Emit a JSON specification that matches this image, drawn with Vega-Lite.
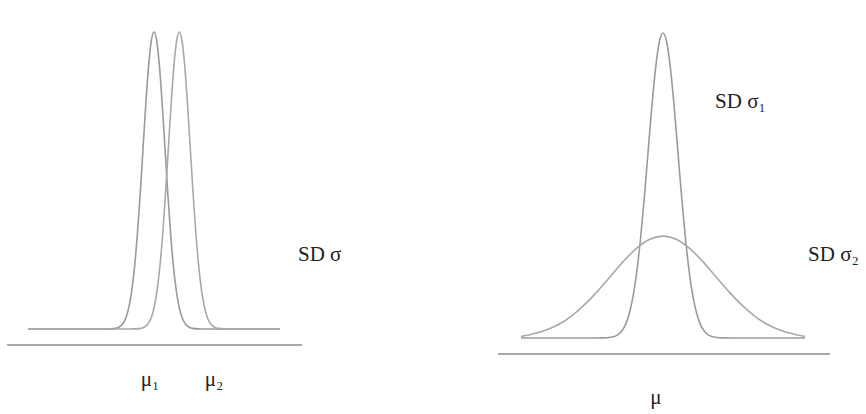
{
  "$schema": "https://vega.github.io/schema/vega-lite/v6.json",
  "padding": 0,
  "spacing": 0,
  "background": "white",
  "config": {"view": {"stroke": null}},
  "datasets": {
    "left": [
      {"curve": "c1", "x": -11.45, "y": 0},
      {"curve": "c1", "x": -4.5, "y": 0},
      {"curve": "c1", "x": -4, "y": 0.0003},
      {"curve": "c1", "x": -3.5, "y": 0.0022},
      {"curve": "c1", "x": -3.25, "y": 0.0051},
      {"curve": "c1", "x": -3, "y": 0.0111},
      {"curve": "c1", "x": -2.75, "y": 0.0228},
      {"curve": "c1", "x": -2.5, "y": 0.0439},
      {"curve": "c1", "x": -2.25, "y": 0.0796},
      {"curve": "c1", "x": -2, "y": 0.1353},
      {"curve": "c1", "x": -1.75, "y": 0.2163},
      {"curve": "c1", "x": -1.5, "y": 0.3247},
      {"curve": "c1", "x": -1.25, "y": 0.4578},
      {"curve": "c1", "x": -1, "y": 0.6065},
      {"curve": "c1", "x": -0.75, "y": 0.7548},
      {"curve": "c1", "x": -0.5, "y": 0.8825},
      {"curve": "c1", "x": -0.25, "y": 0.9692},
      {"curve": "c1", "x": 0, "y": 1},
      {"curve": "c1", "x": 0.25, "y": 0.9692},
      {"curve": "c1", "x": 0.5, "y": 0.8825},
      {"curve": "c1", "x": 0.75, "y": 0.7548},
      {"curve": "c1", "x": 1, "y": 0.6065},
      {"curve": "c1", "x": 1.25, "y": 0.4578},
      {"curve": "c1", "x": 1.5, "y": 0.3247},
      {"curve": "c1", "x": 1.75, "y": 0.2163},
      {"curve": "c1", "x": 2, "y": 0.1353},
      {"curve": "c1", "x": 2.25, "y": 0.0796},
      {"curve": "c1", "x": 2.5, "y": 0.0439},
      {"curve": "c1", "x": 2.75, "y": 0.0228},
      {"curve": "c1", "x": 3, "y": 0.0111},
      {"curve": "c1", "x": 3.25, "y": 0.0051},
      {"curve": "c1", "x": 3.5, "y": 0.0022},
      {"curve": "c1", "x": 4, "y": 0.0003},
      {"curve": "c1", "x": 4.5, "y": 0},
      {"curve": "c1", "x": 11.45, "y": 0},
      {"curve": "c2", "x": -11.45, "y": 0},
      {"curve": "c2", "x": -2.2, "y": 0},
      {"curve": "c2", "x": -1.7, "y": 0.0003},
      {"curve": "c2", "x": -1.2, "y": 0.0022},
      {"curve": "c2", "x": -0.95, "y": 0.0051},
      {"curve": "c2", "x": -0.7, "y": 0.0111},
      {"curve": "c2", "x": -0.45, "y": 0.0228},
      {"curve": "c2", "x": -0.2, "y": 0.0439},
      {"curve": "c2", "x": 0.05, "y": 0.0796},
      {"curve": "c2", "x": 0.3, "y": 0.1353},
      {"curve": "c2", "x": 0.55, "y": 0.2163},
      {"curve": "c2", "x": 0.8, "y": 0.3247},
      {"curve": "c2", "x": 1.05, "y": 0.4578},
      {"curve": "c2", "x": 1.3, "y": 0.6065},
      {"curve": "c2", "x": 1.55, "y": 0.7548},
      {"curve": "c2", "x": 1.8, "y": 0.8825},
      {"curve": "c2", "x": 2.05, "y": 0.9692},
      {"curve": "c2", "x": 2.3, "y": 1},
      {"curve": "c2", "x": 2.55, "y": 0.9692},
      {"curve": "c2", "x": 2.8, "y": 0.8825},
      {"curve": "c2", "x": 3.05, "y": 0.7548},
      {"curve": "c2", "x": 3.3, "y": 0.6065},
      {"curve": "c2", "x": 3.55, "y": 0.4578},
      {"curve": "c2", "x": 3.8, "y": 0.3247},
      {"curve": "c2", "x": 4.05, "y": 0.2163},
      {"curve": "c2", "x": 4.3, "y": 0.1353},
      {"curve": "c2", "x": 4.55, "y": 0.0796},
      {"curve": "c2", "x": 4.8, "y": 0.0439},
      {"curve": "c2", "x": 5.05, "y": 0.0228},
      {"curve": "c2", "x": 5.3, "y": 0.0111},
      {"curve": "c2", "x": 5.55, "y": 0.0051},
      {"curve": "c2", "x": 5.8, "y": 0.0022},
      {"curve": "c2", "x": 6.3, "y": 0.0003},
      {"curve": "c2", "x": 6.8, "y": 0},
      {"curve": "c2", "x": 11.45, "y": 0}
    ],
    "right": [
      {"curve": "narrow", "x": -9.47, "y": 0},
      {"curve": "narrow", "x": -4.5, "y": 0},
      {"curve": "narrow", "x": -4, "y": 0.0003},
      {"curve": "narrow", "x": -3.5, "y": 0.0022},
      {"curve": "narrow", "x": -3.25, "y": 0.0051},
      {"curve": "narrow", "x": -3, "y": 0.0111},
      {"curve": "narrow", "x": -2.75, "y": 0.0228},
      {"curve": "narrow", "x": -2.5, "y": 0.0439},
      {"curve": "narrow", "x": -2.25, "y": 0.0796},
      {"curve": "narrow", "x": -2, "y": 0.1353},
      {"curve": "narrow", "x": -1.75, "y": 0.2163},
      {"curve": "narrow", "x": -1.5, "y": 0.3247},
      {"curve": "narrow", "x": -1.25, "y": 0.4578},
      {"curve": "narrow", "x": -1, "y": 0.6065},
      {"curve": "narrow", "x": -0.75, "y": 0.7548},
      {"curve": "narrow", "x": -0.5, "y": 0.8825},
      {"curve": "narrow", "x": -0.25, "y": 0.9692},
      {"curve": "narrow", "x": 0, "y": 1},
      {"curve": "narrow", "x": 0.25, "y": 0.9692},
      {"curve": "narrow", "x": 0.5, "y": 0.8825},
      {"curve": "narrow", "x": 0.75, "y": 0.7548},
      {"curve": "narrow", "x": 1, "y": 0.6065},
      {"curve": "narrow", "x": 1.25, "y": 0.4578},
      {"curve": "narrow", "x": 1.5, "y": 0.3247},
      {"curve": "narrow", "x": 1.75, "y": 0.2163},
      {"curve": "narrow", "x": 2, "y": 0.1353},
      {"curve": "narrow", "x": 2.25, "y": 0.0796},
      {"curve": "narrow", "x": 2.5, "y": 0.0439},
      {"curve": "narrow", "x": 2.75, "y": 0.0228},
      {"curve": "narrow", "x": 3, "y": 0.0111},
      {"curve": "narrow", "x": 3.25, "y": 0.0051},
      {"curve": "narrow", "x": 3.5, "y": 0.0022},
      {"curve": "narrow", "x": 4, "y": 0.0003},
      {"curve": "narrow", "x": 4.5, "y": 0},
      {"curve": "narrow", "x": 9.47, "y": 0},
      {"curve": "wide", "x": -9.47, "y": 0.005},
      {"curve": "wide", "x": -8.75, "y": 0.0125},
      {"curve": "wide", "x": -7.875, "y": 0.0245},
      {"curve": "wide", "x": -7.0, "y": 0.0432},
      {"curve": "wide", "x": -6.125, "y": 0.0712},
      {"curve": "wide", "x": -5.25, "y": 0.1084},
      {"curve": "wide", "x": -4.375, "y": 0.1529},
      {"curve": "wide", "x": -3.5, "y": 0.2026},
      {"curve": "wide", "x": -2.625, "y": 0.2521},
      {"curve": "wide", "x": -1.75, "y": 0.2948},
      {"curve": "wide", "x": -0.875, "y": 0.3237},
      {"curve": "wide", "x": 0, "y": 0.334},
      {"curve": "wide", "x": 0.875, "y": 0.3237},
      {"curve": "wide", "x": 1.75, "y": 0.2948},
      {"curve": "wide", "x": 2.625, "y": 0.2521},
      {"curve": "wide", "x": 3.5, "y": 0.2026},
      {"curve": "wide", "x": 4.375, "y": 0.1529},
      {"curve": "wide", "x": 5.25, "y": 0.1084},
      {"curve": "wide", "x": 6.125, "y": 0.0712},
      {"curve": "wide", "x": 7.0, "y": 0.0432},
      {"curve": "wide", "x": 7.875, "y": 0.0245},
      {"curve": "wide", "x": 8.75, "y": 0.0125},
      {"curve": "wide", "x": 9.47, "y": 0.005}
    ]
  },
  "hconcat": [
    {
      "width": 433,
      "height": 414,
      "layer": [
        {
          "data": {"values": [{"x1": -13.36, "x2": 13.45, "y": -0.054}]},
          "mark": {"type": "rule", "color": "#8c8c8c", "strokeWidth": 1.6},
          "encoding": {
            "x": {"field": "x1", "type": "quantitative", "scale": {"domain": [-14, 25.36], "nice": false, "zero": false}, "axis": null},
            "x2": {"field": "x2"},
            "y": {"field": "y", "type": "quantitative", "scale": {"domain": [-0.2862, 1.1077], "nice": false, "zero": false}, "axis": null}
          }
        },
        {
          "data": {"name": "left"},
          "mark": {"type": "line", "interpolate": "monotone", "strokeWidth": 1.6},
          "encoding": {
            "x": {"field": "x", "type": "quantitative", "scale": {"domain": [-14, 25.36], "nice": false, "zero": false}, "axis": null},
            "y": {"field": "y", "type": "quantitative", "scale": {"domain": [-0.2862, 1.1077], "nice": false, "zero": false}, "axis": null},
            "detail": {"field": "curve"},
            "color": {"field": "curve", "type": "nominal", "scale": {"domain": ["c1", "c2"], "range": ["#9a9a9a", "#a8a8a8"]}, "legend": null}
          }
        },
        {
          "data": {"values": [
            {"x": -0.36, "y": -0.172, "label": "μ₁"},
            {"x": 5.45, "y": -0.172, "label": "μ₂"}
          ]},
          "mark": {"type": "text", "font": "Liberation Serif", "fontSize": 21, "color": "#222222", "align": "center", "baseline": "middle"},
          "encoding": {
            "x": {"field": "x", "type": "quantitative", "scale": {"domain": [-14, 25.36], "nice": false, "zero": false}, "axis": null},
            "y": {"field": "y", "type": "quantitative", "scale": {"domain": [-0.2862, 1.1077], "nice": false, "zero": false}, "axis": null},
            "text": {"field": "label"}
          }
        },
        {
          "data": {"values": [{"x": 13.09, "y": 0.249, "label": "SD σ"}]},
          "mark": {"type": "text", "font": "Liberation Serif", "fontSize": 21, "color": "#222222", "align": "left", "baseline": "middle"},
          "encoding": {
            "x": {"field": "x", "type": "quantitative", "scale": {"domain": [-14, 25.36], "nice": false, "zero": false}, "axis": null},
            "y": {"field": "y", "type": "quantitative", "scale": {"domain": [-0.2862, 1.1077], "nice": false, "zero": false}, "axis": null},
            "text": {"field": "label"}
          }
        }
      ],
      "resolve": {"scale": {"color": "independent"}}
    },
    {
      "width": 433,
      "height": 414,
      "layer": [
        {
          "data": {"values": [{"x1": -11.0, "x2": 11.13, "y": -0.0525}]},
          "mark": {"type": "rule", "color": "#8c8c8c", "strokeWidth": 1.6},
          "encoding": {
            "x": {"field": "x1", "type": "quantitative", "scale": {"domain": [-15.333, 13.533], "nice": false, "zero": false}, "axis": null},
            "x2": {"field": "x2"},
            "y": {"field": "y", "type": "quantitative", "scale": {"domain": [-0.2492, 1.1082], "nice": false, "zero": false}, "axis": null}
          }
        },
        {
          "data": {"name": "right"},
          "mark": {"type": "line", "interpolate": "monotone", "strokeWidth": 1.6},
          "encoding": {
            "x": {"field": "x", "type": "quantitative", "scale": {"domain": [-15.333, 13.533], "nice": false, "zero": false}, "axis": null},
            "y": {"field": "y", "type": "quantitative", "scale": {"domain": [-0.2492, 1.1082], "nice": false, "zero": false}, "axis": null},
            "detail": {"field": "curve"},
            "color": {"field": "curve", "type": "nominal", "scale": {"domain": ["narrow", "wide"], "range": ["#9a9a9a", "#a8a8a8"]}, "legend": null}
          }
        },
        {
          "data": {"values": [
            {"x": -0.47, "y": -0.197, "label": "μ"}
          ]},
          "mark": {"type": "text", "font": "Liberation Serif", "fontSize": 21, "color": "#222222", "align": "center", "baseline": "middle"},
          "encoding": {
            "x": {"field": "x", "type": "quantitative", "scale": {"domain": [-15.333, 13.533], "nice": false, "zero": false}, "axis": null},
            "y": {"field": "y", "type": "quantitative", "scale": {"domain": [-0.2492, 1.1082], "nice": false, "zero": false}, "axis": null},
            "text": {"field": "label"}
          }
        },
        {
          "data": {"values": [
            {"x": 3.47, "y": 0.774, "label": "SD σ₁"},
            {"x": 9.67, "y": 0.272, "label": "SD σ₂"}
          ]},
          "mark": {"type": "text", "font": "Liberation Serif", "fontSize": 21, "color": "#222222", "align": "left", "baseline": "middle"},
          "encoding": {
            "x": {"field": "x", "type": "quantitative", "scale": {"domain": [-15.333, 13.533], "nice": false, "zero": false}, "axis": null},
            "y": {"field": "y", "type": "quantitative", "scale": {"domain": [-0.2492, 1.1082], "nice": false, "zero": false}, "axis": null},
            "text": {"field": "label"}
          }
        }
      ],
      "resolve": {"scale": {"color": "independent"}}
    }
  ],
  "resolve": {"scale": {"x": "independent", "y": "independent", "color": "independent"}}
}
